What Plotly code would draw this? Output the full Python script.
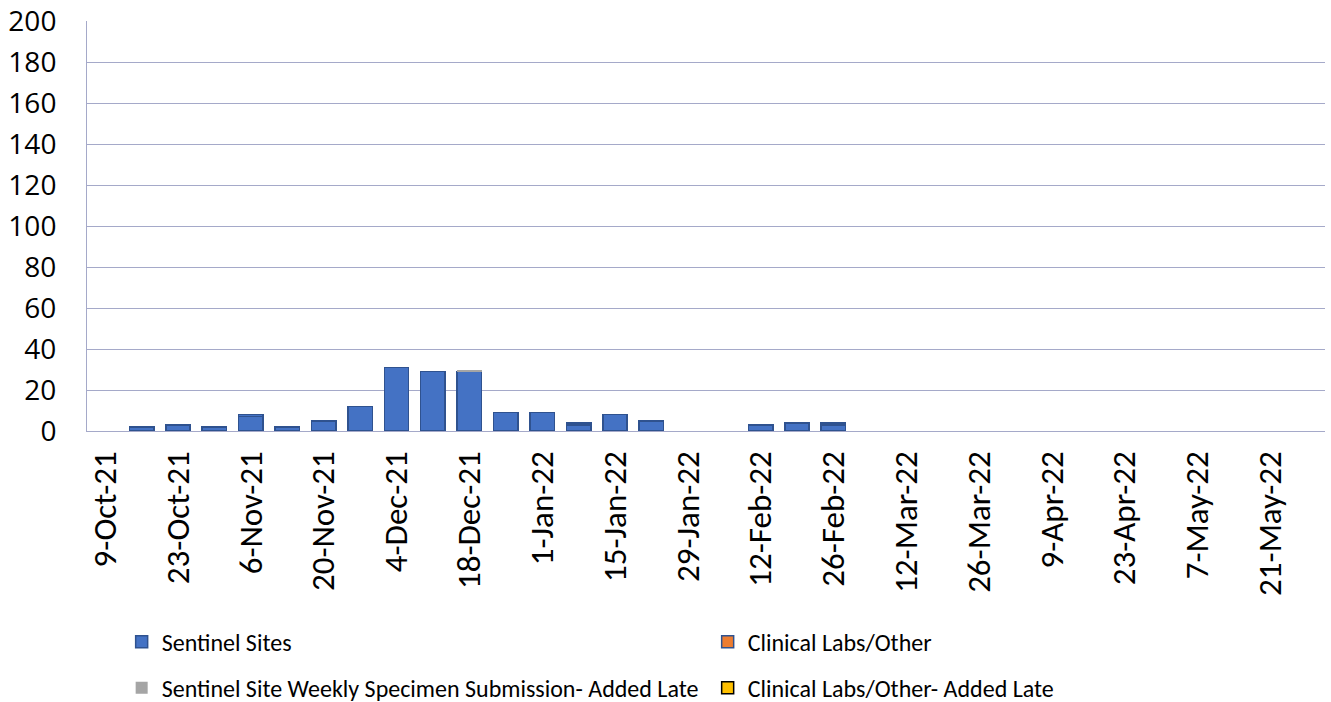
import plotly.graph_objects as go

weeks = ["9-Oct-21", "16-Oct-21", "23-Oct-21", "30-Oct-21", "6-Nov-21", "13-Nov-21",
         "20-Nov-21", "27-Nov-21", "4-Dec-21", "11-Dec-21", "18-Dec-21", "25-Dec-21",
         "1-Jan-22", "8-Jan-22", "15-Jan-22", "22-Jan-22", "29-Jan-22", "5-Feb-22",
         "12-Feb-22", "19-Feb-22", "26-Feb-22", "5-Mar-22", "12-Mar-22", "19-Mar-22",
         "26-Mar-22", "2-Apr-22", "9-Apr-22", "16-Apr-22", "23-Apr-22", "30-Apr-22",
         "7-May-22", "14-May-22", "21-May-22", "28-May-22"]

sentinel = [0, 2, 3, 2, 7, 2, 5, 12, 31, 29, 29, 9, 9, 3, 8, 5, 0, 0, 3, 4, 3,
            0, 0, 0, 0, 0, 0, 0, 0, 0, 0, 0, 0, 0]
sentinel_extra = [0, 0, 0, 0, 1, 0, 0, 0, 0, 0, 0, 0, 0, 1, 0, 0, 0, 0, 0, 0, 0,
                  0, 0, 0, 0, 0, 0, 0, 0, 0, 0, 0, 0, 0]
clinical = [0, 0, 0, 0, 0, 0, 0, 0, 0, 0, 0, 0, 0, 0, 0, 0, 0, 0, 0, 0, 1,
            0, 0, 0, 0, 0, 0, 0, 0, 0, 0, 0, 0, 0]
sentinel_late = [0, 0, 0, 0, 0, 0, 0, 0, 0, 0, 0.7, 0, 0, 0, 0, 0, 0, 0, 0, 0, 0,
                 0, 0, 0, 0, 0, 0, 0, 0, 0, 0, 0, 0, 0]
clinical_late = [0] * 34

tick_labels = weeks[::2]
y_ticks = list(range(0, 201, 20))

FONT = "Calibri, Carlito, Lato, sans-serif"
BLUE = "#4472C4"
BLUE_EDGE = "#2F528F"

def nz(vals):
    return [v if v else None for v in vals]

fig = go.Figure()
fig.add_trace(go.Bar(x=weeks, y=nz(sentinel), name="Sentinel Sites", legendgroup="s",
                     marker=dict(color=BLUE, line=dict(color=BLUE_EDGE, width=1.5)),
                     legend="legend"))
fig.add_trace(go.Bar(x=weeks, y=nz(sentinel_extra), name="Sentinel Sites", legendgroup="s",
                     showlegend=False,
                     marker=dict(color=BLUE, line=dict(color=BLUE_EDGE, width=1.5))))
fig.add_trace(go.Bar(x=weeks, y=nz(clinical), name="Clinical Labs/Other",
                     marker=dict(color="#ED7D31", line=dict(color=BLUE_EDGE, width=1.5)),
                     legend="legend"))
fig.add_trace(go.Bar(x=weeks, y=nz(sentinel_late),
                     name="Sentinel Site Weekly Specimen Submission- Added Late",
                     marker=dict(color="#A5A5A5", line=dict(color="#A5A5A5", width=0)),
                     legend="legend2"))
fig.add_trace(go.Bar(x=weeks, y=nz(clinical_late), name="Clinical Labs/Other- Added Late",
                     marker=dict(color="#FFC000", line=dict(color="#000000", width=1.5)),
                     legend="legend2"))

leg_common = dict(orientation="h", xanchor="left", yanchor="middle",
                  entrywidth=541, entrywidthmode="pixels",
                  font=dict(family=FONT, size=24, color="#000000"),
                  bgcolor="rgba(0,0,0,0)", traceorder="normal", itemwidth=30)

fig.update_layout(
    width=1331, height=702,
    barmode="stack", bargap=0.33,
    plot_bgcolor="white", paper_bgcolor="white",
    margin=dict(l=87, r=6, t=21, b=271, autoexpand=False),
    font=dict(family=FONT, color="#000000"),
    legend=dict(x=0.028, y=-0.515, **leg_common),
    legend2=dict(x=0.028, y=-0.627, **leg_common),
    xaxis=dict(type="category", categoryorder="array", categoryarray=weeks,
               tickmode="array", tickvals=tick_labels, ticktext=tick_labels,
               tickangle=-90, tickfont=dict(family=FONT, size=33, color="#000000"),
               showgrid=False, showline=True, linecolor="#A5A9C9", linewidth=1,
               ticks="", range=[-0.5, 33.5], automargin=False, ticklabelstandoff=6),
    yaxis=dict(range=[0, 200], tickvals=y_ticks, ticks="",
               tickfont=dict(family="Open Sans, sans-serif", size=28, color="#000000"),
               showgrid=True, gridcolor="#A5A9C9", gridwidth=1,
               showline=True, linecolor="#A5A9C9", linewidth=1,
               zeroline=False, ticklabelstandoff=24, automargin=False),
)

fig.write_html("out.html", config={"displayModeBar": False},
               post_script="document.body.style.margin='0';document.body.style.overflow='hidden';")
